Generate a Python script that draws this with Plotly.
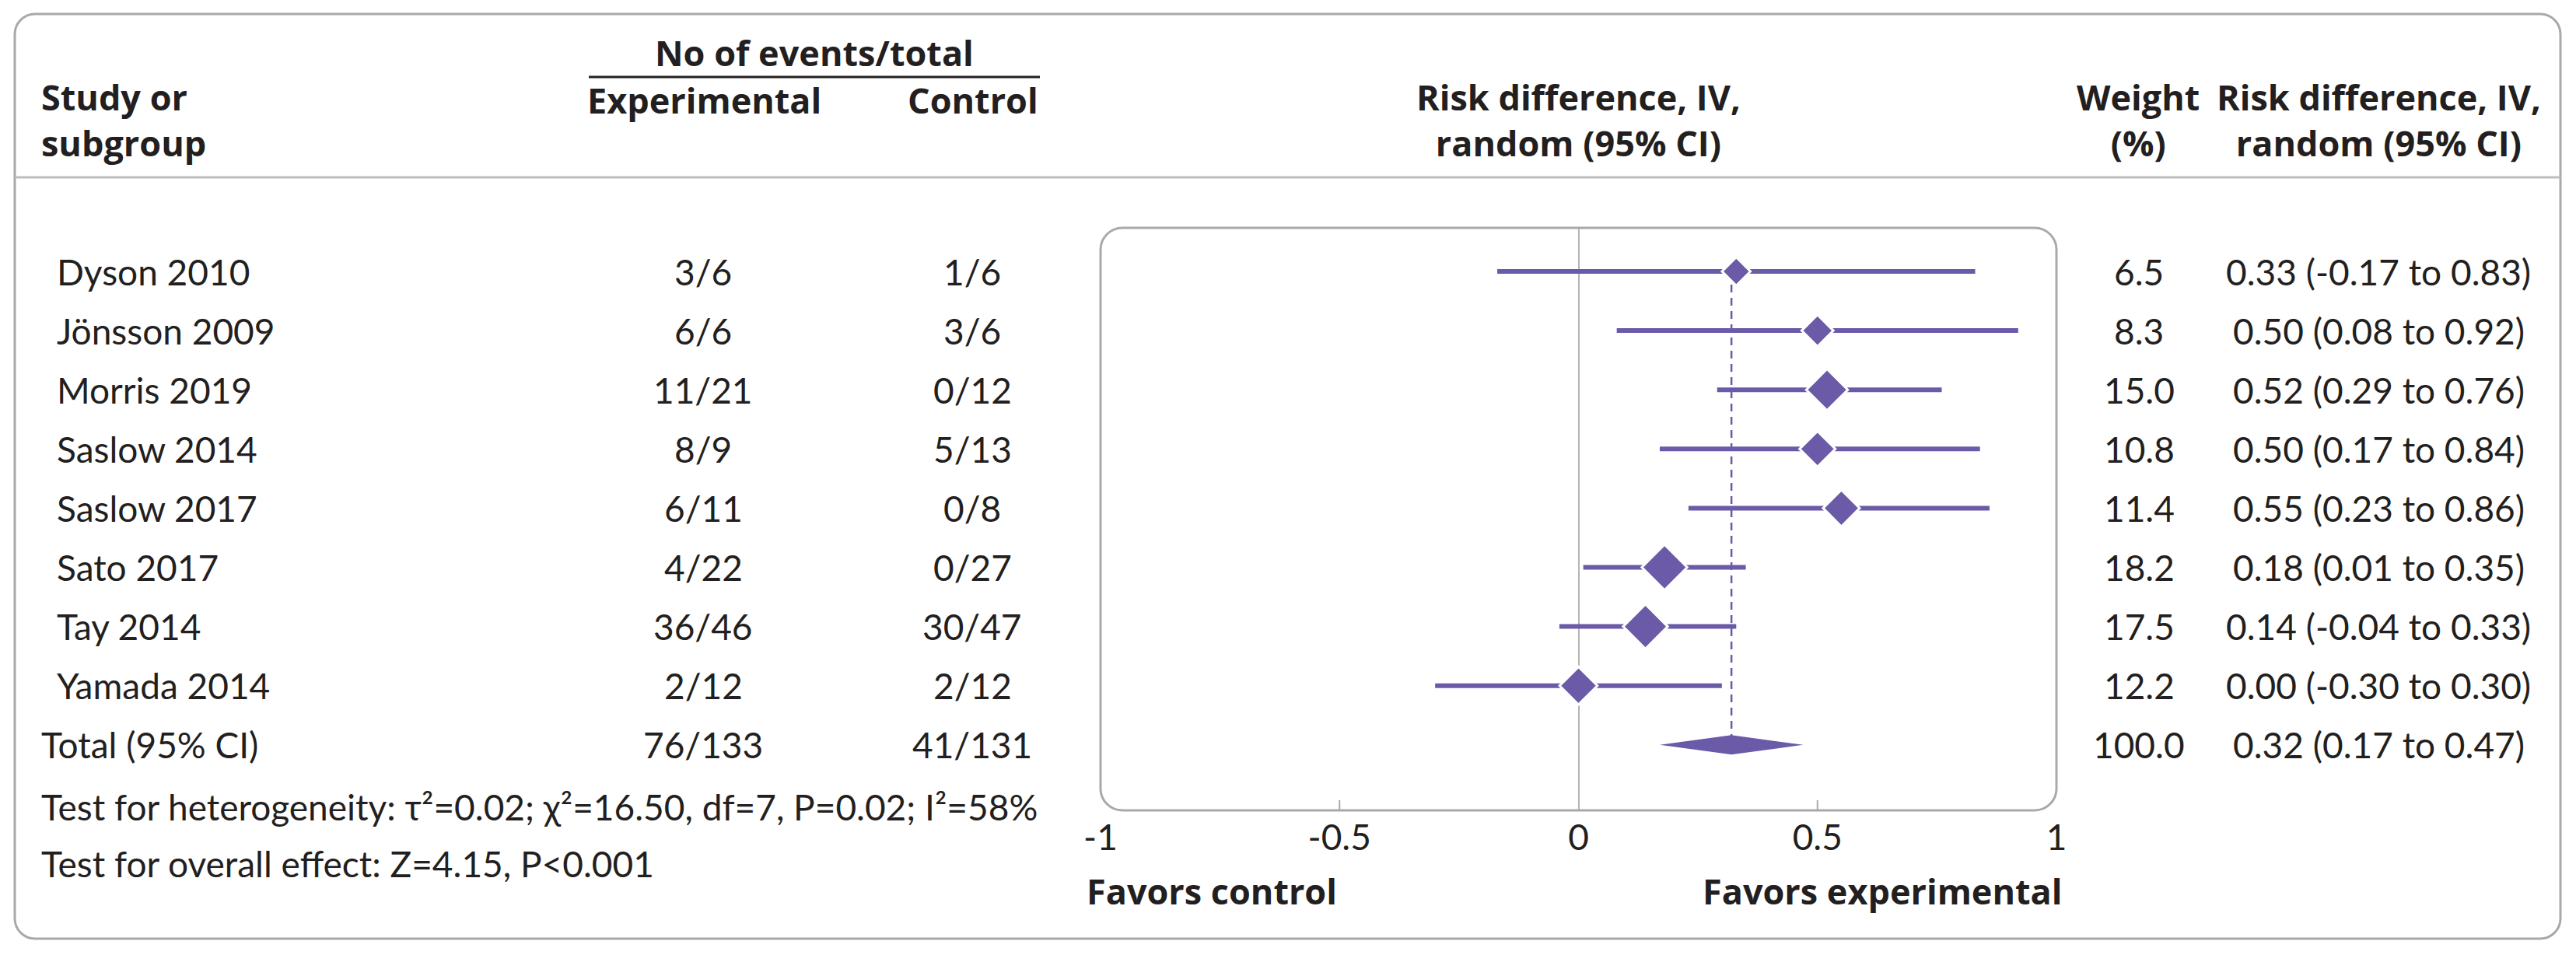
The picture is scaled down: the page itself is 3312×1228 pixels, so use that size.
import plotly.graph_objects as go

# ---------------- data ----------------
studies = ["Dyson 2010", "Jönsson 2009", "Morris 2019", "Saslow 2014",
           "Saslow 2017", "Sato 2017", "Tay 2014", "Yamada 2014"]
exp_events = ["3/6", "6/6", "11/21", "8/9", "6/11", "4/22", "36/46", "2/12"]
ctrl_events = ["1/6", "3/6", "0/12", "5/13", "0/8", "0/27", "30/47", "2/12"]
weights = [6.5, 8.3, 15.0, 10.8, 11.4, 18.2, 17.5, 12.2]
rd_est = [0.33, 0.50, 0.52, 0.50, 0.55, 0.18, 0.14, 0.00]
rd_low = [-0.17, 0.08, 0.29, 0.17, 0.23, 0.01, -0.04, -0.30]
rd_high = [0.83, 0.92, 0.76, 0.84, 0.86, 0.35, 0.33, 0.30]

total_label = "Total (95% CI)"
total_exp = "76/133"
total_ctrl = "41/131"
total_weight = 100.0
total_est = 0.32
total_low = 0.17
total_high = 0.47

heterogeneity = "Test for heterogeneity: τ²=0.02; χ²=16.50, df=7, P=0.02; I²=58%"
overall_effect = "Test for overall effect: Z=4.15, P<0.001"

x_tickvals = [-1, -0.5, 0, 0.5, 1]
x_ticktext = ["-1", "-0.5", "0", "0.5", "1"]
minor_ticks = [-0.5, 0.5]

# ---------------- style ----------------
W, H = 3312, 1228
FONT = "Lato"
BFONT = "Open Sans"
FS = 46
BFS = 45
TXT = "#231f20"
PURPLE = "#6a5aa7"
GRAY = "#a9a9ab"
ROW0_PX, ROW_PX = 349, 76.1
BOX_L, BOX_R, BOX_T, BOX_B = 1415, 2644, 293, 1042


def X(p):
    return p / W


def Y(p):
    return 1 - p / H


def rrect(x0, y0, x1, y1, r):
    k = 0.5523 * r
    return (f"M {X(x0 + r)},{Y(y0)} L {X(x1 - r)},{Y(y0)} "
            f"C {X(x1 - r + k)},{Y(y0)} {X(x1)},{Y(y0 + r - k)} {X(x1)},{Y(y0 + r)} "
            f"L {X(x1)},{Y(y1 - r)} "
            f"C {X(x1)},{Y(y1 - r + k)} {X(x1 - r + k)},{Y(y1)} {X(x1 - r)},{Y(y1)} "
            f"L {X(x0 + r)},{Y(y1)} "
            f"C {X(x0 + r - k)},{Y(y1)} {X(x0)},{Y(y1 - r + k)} {X(x0)},{Y(y1 - r)} "
            f"L {X(x0)},{Y(y0 + r)} "
            f"C {X(x0)},{Y(y0 + r - k)} {X(x0 + r - k)},{Y(y0)} {X(x0 + r)},{Y(y0)} Z")


n = len(studies)
rows = list(range(n))
total_row = n
y_top = (BOX_T - ROW0_PX) / ROW_PX
y_bot = (BOX_B - ROW0_PX) / ROW_PX

fig = go.Figure()

# dashed overall-effect line
fig.add_trace(go.Scatter(
    x=[total_est, total_est], y=[0, total_row], mode="lines",
    line=dict(color=PURPLE, width=2.5, dash="10px,7px"),
    hoverinfo="skip", showlegend=False))

# CI lines
cx, cy = [], []
for r, lo, hi in zip(rows, rd_low, rd_high):
    cx += [lo, hi, None]
    cy += [r, r, None]
fig.add_trace(go.Scatter(
    x=cx, y=cy, mode="lines", line=dict(color=PURPLE, width=6),
    hoverinfo="skip", showlegend=False))

# study diamonds, size by weight
sizes = [(12.7 * w ** 0.5 + 4.2) / 1.3 for w in weights]
fig.add_trace(go.Scatter(
    x=rd_est, y=rows, mode="markers",
    marker=dict(symbol="diamond", size=sizes, color=PURPLE, opacity=1,
                line=dict(color="white", width=3)),
    showlegend=False))

# pooled diamond
h = 12.5 / ROW_PX
fig.add_trace(go.Scatter(
    x=[total_low, total_est, total_high, total_est, total_low],
    y=[total_row, total_row - h, total_row, total_row + h, total_row],
    mode="lines", fill="toself", fillcolor=PURPLE,
    line=dict(color=PURPLE, width=0), hoverinfo="skip", showlegend=False))

shapes = [
    dict(type="path", xref="paper", yref="paper", path=rrect(19, 18, 3292, 1207, 26),
         line=dict(color=GRAY, width=3), layer="above"),
    dict(type="line", xref="paper", yref="paper", x0=X(19), x1=X(3292), y0=Y(228), y1=Y(228),
         line=dict(color="#bdbdbf", width=3)),
    dict(type="path", xref="paper", yref="paper", path=rrect(BOX_L, BOX_T, BOX_R, BOX_B, 28),
         line=dict(color=GRAY, width=3), layer="above"),
    dict(type="line", xref="paper", yref="paper", x0=X(757), x1=X(1337), y0=Y(99), y1=Y(99),
         line=dict(color=TXT, width=3)),
]
for t in minor_ticks:
    shapes.append(dict(type="line", xref="x", yref="y domain", x0=t, x1=t, y0=0,
                       y1=13 / (BOX_B - BOX_T), line=dict(color=GRAY, width=2)))

ann = []


def add(text, x, y, xanchor="center", yref="paper", bold=False):
    font = (dict(family=BFONT, size=BFS, color=TXT, weight="bold") if bold
            else dict(family=FONT, size=FS, color=TXT))
    ann.append(dict(text=text, x=x, y=y, xref="paper", yref=yref,
                    xanchor=xanchor, yanchor="middle", align=xanchor if xanchor != "right" else "right",
                    showarrow=False, font=font))


# header
add("No of events/total", X(1047), Y(67), bold=True)
add("Study or<br>subgroup", X(51), Y(154), "left", bold=True)
add("Experimental", X(905), Y(128), bold=True)
add("Control", X(1251), Y(128), bold=True)
add("Risk difference, IV,<br>random (95% CI)", X(2029), Y(154), bold=True)
add("Weight<br>(%)", X(2749), Y(154), bold=True)
add("Risk difference, IV,<br>random (95% CI)", X(3058), Y(154), bold=True)

# rows
for r, s, e, c, w, m, lo, hi in zip(rows, studies, exp_events, ctrl_events, weights,
                                     rd_est, rd_low, rd_high):
    add(s, X(71), r, "left", yref="y")
    add(e, X(904), r, yref="y")
    add(c, X(1250), r, yref="y")
    add(f"{w:.1f}", X(2750), r, yref="y")
    add(f"{m:.2f} ({lo:.2f} to {hi:.2f})", X(3058), r, yref="y")

add(total_label, X(51), total_row, "left", yref="y")
add(total_exp, X(904), total_row, yref="y")
add(total_ctrl, X(1250), total_row, yref="y")
add(f"{total_weight:.1f}", X(2750), total_row, yref="y")
add(f"{total_est:.2f} ({total_low:.2f} to {total_high:.2f})", X(3058), total_row, yref="y")

add(heterogeneity, X(51), Y(1037), "left")
add(overall_effect, X(51), Y(1110), "left")

add("Favors control", X(1395), Y(1145), "left", bold=True)
add("Favors experimental", X(2653), Y(1145), "right", bold=True)

fig.update_layout(
    width=W, height=H, margin=dict(l=0, r=0, t=0, b=0, pad=0, autoexpand=False),
    paper_bgcolor="white", plot_bgcolor="white",
    shapes=shapes, annotations=ann,
    xaxis=dict(domain=[X(BOX_L), X(BOX_R)], range=[-1, 1], showgrid=False,
               zeroline=True, zerolinecolor="#b5b5b7", zerolinewidth=2,
               showline=False, ticks="", tickvals=x_tickvals, ticktext=x_ticktext,
               ticklabelstandoff=4, automargin=False,
               tickfont=dict(family=FONT, size=FS, color=TXT), fixedrange=True),
    yaxis=dict(domain=[Y(BOX_B), Y(BOX_T)], range=[y_bot, y_top], visible=False,
               automargin=False, fixedrange=True),
    font=dict(family=FONT, color=TXT),
)

fig.write_html("out.html", config={"displayModeBar": False},
               post_script="document.documentElement.style.margin='0';"
                           "document.body.style.margin='0';"
                           "document.body.style.overflow='hidden';")
